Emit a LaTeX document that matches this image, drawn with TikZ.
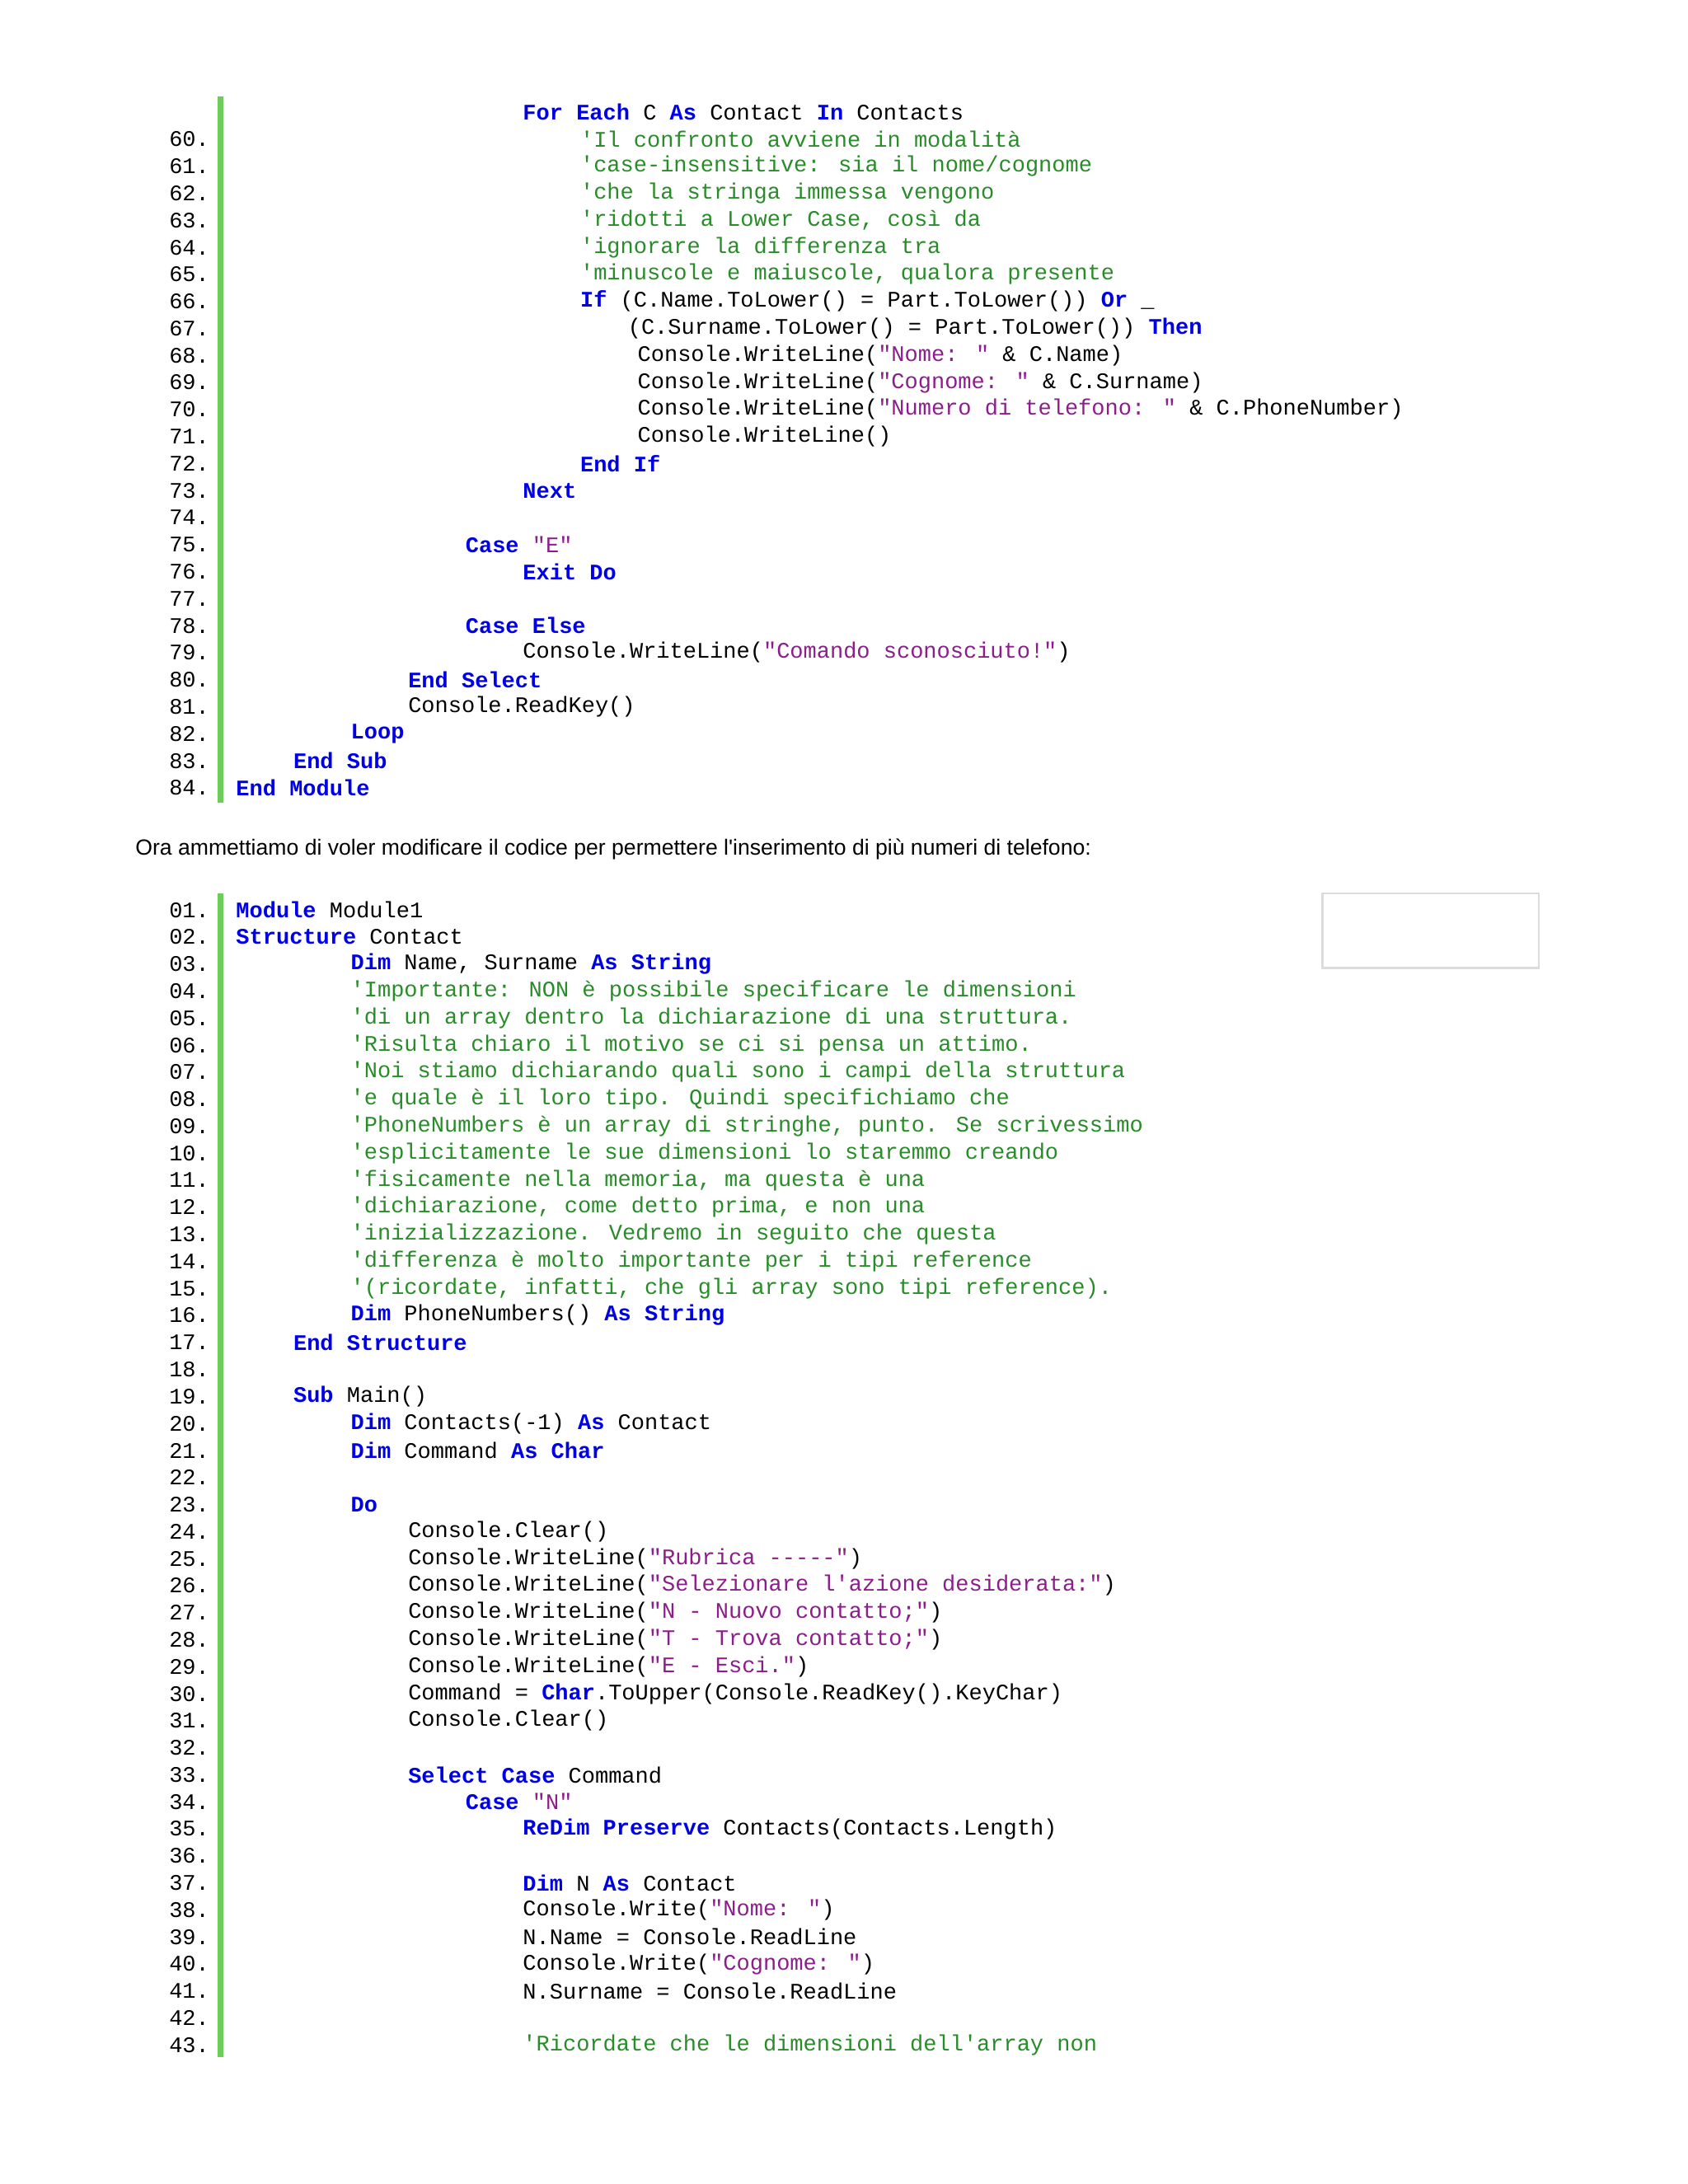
\documentclass[tikz,border=0pt]{standalone}
\usepackage{fontspec}
\newfontfamily\codefont{Liberation Mono}
\newfontfamily\parafont{Liberation Sans}
\definecolor{kwc}{RGB}{0,0,230}
\definecolor{cmc}{RGB}{40,140,40}
\definecolor{stc}{RGB}{140,30,140}
\definecolor{barc}{RGB}{110,205,90}
\newcommand\kw[1]{\textbf{\color{kwc}#1}}
\newcommand\cm[1]{{\color{cmc}#1}}
\newcommand\st[1]{{\color{stc}#1}}
\tikzset{num/.style={anchor=east,inner sep=0,font=\codefont\fontsize{13.5}{15}\selectfont},
code/.style={anchor=west,inner sep=0,font=\codefont\fontsize{13.5}{15}\selectfont},
bar/.style={fill=barc,draw=none}}
\newcommand\tl[3]{\node[num,name=tn#1] at (152,{101+(#1-60)*19.6}) {#1.};
 \node[code,name=tc#1] at ({171+41.6*#2},{101+(#1-60)*19.6}) {#3};}
\newcommand\bl[3]{\node[num,name=bn#1] at (152,{660+(\number#1-1)*19.6}) {#1.};
 \node[code,name=bc#1] at ({171+41.6*#2},{660+(\number#1-1)*19.6}) {#3};}
\newcommand\bn[1]{\node[num,name=bn#1] at (152,{660+(\number#1-1)*19.6}) {#1.};}
\newcommand\tn[1]{\node[num,name=tn#1] at (152,{101+(#1-60)*19.6}) {#1.};}
\begin{document}
\begin{tikzpicture}[x=0.8366pt,y=-0.8366pt]
\useasboundingbox[fill=white] (0,0) rectangle (1224,1584);
\fill[bar] (158,70) rectangle (162,582);
\fill[bar] (158,648) rectangle (162,1492);
\node[code,name=tcfe] at ({171+41.6*5},81) {\kw{For Each} C \kw{As} Contact \kw{In} Contacts};
\tl{60}{6}{\cm{'Il confronto avviene in modalità}}
\tl{61}{6}{\cm{'case-insensitive: sia il nome/cognome}}
\tl{62}{6}{\cm{'che la stringa immessa vengono}}
\tl{63}{6}{\cm{'ridotti a Lower Case, così da}}
\tl{64}{6}{\cm{'ignorare la differenza tra}}
\tl{65}{6}{\cm{'minuscole e maiuscole, qualora presente}}
\tl{66}{6}{\kw{If} (C.Name.ToLower() = Part.ToLower()) \kw{Or} \_}
\tl{67}{6.83}{(C.Surname.ToLower() = Part.ToLower()) \kw{Then}}
\tl{68}{7}{Console.WriteLine(\st{"Nome: "} \& C.Name)}
\tl{69}{7}{Console.WriteLine(\st{"Cognome: "} \& C.Surname)}
\tl{70}{7}{Console.WriteLine(\st{"Numero di telefono: "} \& C.PhoneNumber)}
\tl{71}{7}{Console.WriteLine()}
\tl{72}{6}{\kw{End If}}
\tl{73}{5}{\kw{Next}}
\tn{74}
\tl{75}{4}{\kw{Case} \st{"E"}}
\tl{76}{5}{\kw{Exit Do}}
\tn{77}
\tl{78}{4}{\kw{Case Else}}
\tl{79}{5}{Console.WriteLine(\st{"Comando sconosciuto!"})}
\tl{80}{3}{\kw{End Select}}
\tl{81}{3}{Console.ReadKey()}
\tl{82}{2}{\kw{Loop}}
\tl{83}{1}{\kw{End Sub}}
\tl{84}{0}{\kw{End Module}}
\node[anchor=west,inner sep=0,font=\parafont\fontsize{13.3}{16}\selectfont,name=para] at (98,616) {Ora ammettiamo di voler modificare il codice per permettere l'inserimento di più numeri di telefono:};
\draw[draw={rgb,255:red,220;green,220;blue,220},line width=1.2pt] (959,648) rectangle (1116,702);
\bl{01}{0}{\kw{Module} Module1}
\bl{02}{0}{\kw{Structure} Contact}
\bl{03}{2}{\kw{Dim} Name, Surname \kw{As} \kw{String}}
\bl{04}{2}{\cm{'Importante: NON è possibile specificare le dimensioni}}
\bl{05}{2}{\cm{'di un array dentro la dichiarazione di una struttura.}}
\bl{06}{2}{\cm{'Risulta chiaro il motivo se ci si pensa un attimo.}}
\bl{07}{2}{\cm{'Noi stiamo dichiarando quali sono i campi della struttura}}
\bl{08}{2}{\cm{'e quale è il loro tipo. Quindi specifichiamo che}}
\bl{09}{2}{\cm{'PhoneNumbers è un array di stringhe, punto. Se scrivessimo}}
\bl{10}{2}{\cm{'esplicitamente le sue dimensioni lo staremmo creando}}
\bl{11}{2}{\cm{'fisicamente nella memoria, ma questa è una}}
\bl{12}{2}{\cm{'dichiarazione, come detto prima, e non una}}
\bl{13}{2}{\cm{'inizializzazione. Vedremo in seguito che questa}}
\bl{14}{2}{\cm{'differenza è molto importante per i tipi reference}}
\bl{15}{2}{\cm{'(ricordate, infatti, che gli array sono tipi reference).}}
\bl{16}{2}{\kw{Dim} PhoneNumbers() \kw{As} \kw{String}}
\bl{17}{1}{\kw{End Structure}}
\bn{18}
\bl{19}{1}{\kw{Sub} Main()}
\bl{20}{2}{\kw{Dim} Contacts(-1) \kw{As} Contact}
\bl{21}{2}{\kw{Dim} Command \kw{As} \kw{Char}}
\bn{22}
\bl{23}{2}{\kw{Do}}
\bl{24}{3}{Console.Clear()}
\bl{25}{3}{Console.WriteLine(\st{"Rubrica -----"})}
\bl{26}{3}{Console.WriteLine(\st{"Selezionare l'azione desiderata:"})}
\bl{27}{3}{Console.WriteLine(\st{"N - Nuovo contatto;"})}
\bl{28}{3}{Console.WriteLine(\st{"T - Trova contatto;"})}
\bl{29}{3}{Console.WriteLine(\st{"E - Esci."})}
\bl{30}{3}{Command = \kw{Char}.ToUpper(Console.ReadKey().KeyChar)}
\bl{31}{3}{Console.Clear()}
\bn{32}
\bl{33}{3}{\kw{Select Case} Command}
\bl{34}{4}{\kw{Case} \st{"N"}}
\bl{35}{5}{\kw{ReDim} \kw{Preserve} Contacts(Contacts.Length)}
\bn{36}
\bl{37}{5}{\kw{Dim} N \kw{As} Contact}
\bl{38}{5}{Console.Write(\st{"Nome: "})}
\bl{39}{5}{N.Name = Console.ReadLine}
\bl{40}{5}{Console.Write(\st{"Cognome: "})}
\bl{41}{5}{N.Surname = Console.ReadLine}
\bn{42}
\bl{43}{5}{\cm{'Ricordate che le dimensioni dell'array non}}
\end{tikzpicture}
\end{document}
